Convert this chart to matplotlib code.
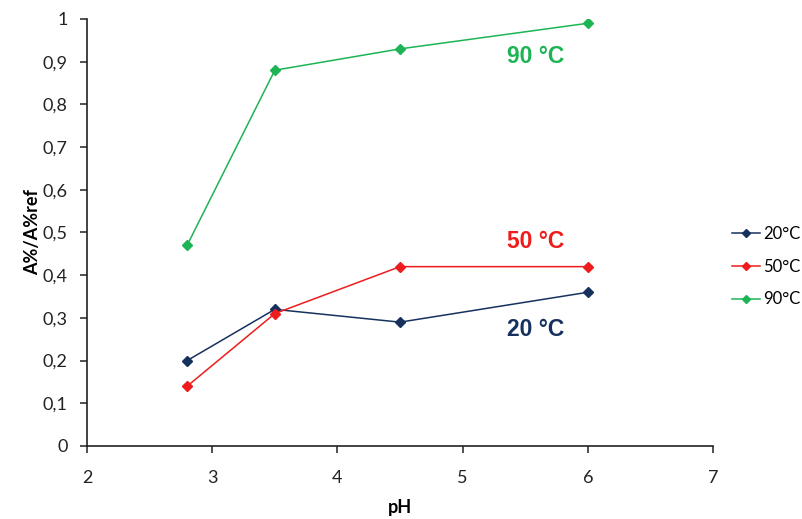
import matplotlib
matplotlib.use("Agg")
import matplotlib.pyplot as plt
from matplotlib.ticker import FuncFormatter, MultipleLocator

plt.rcParams['font.family'] = ['Lato', 'DejaVu Sans']

ph = [2.8, 3.5, 4.5, 6.0]
t20 = [0.20, 0.32, 0.29, 0.36]
t50 = [0.14, 0.31, 0.42, 0.42]
t90 = [0.47, 0.88, 0.93, 0.99]
labels = ['20°C', '50°C', '90°C']
colors = ['#17315f', '#ee1c1c', '#1db455']
annot = ['20 °C', '50 °C', '90 °C']
annot_pos = [(5.58, 0.272), (5.58, 0.48), (5.58, 0.911)]


def fmt(v, p):
    if abs(v - round(v)) < 1e-9:
        return '%d' % round(v)
    return ('%.1f' % v).replace('.', ',')


fig = plt.figure(figsize=(8.03, 5.19), dpi=100)
ax = fig.add_axes([0.1083, 0.1407, 0.7797, 0.8227])

handles = []
for y, c, lab in zip([t20, t50, t90], colors, labels):
    h, = ax.plot(ph, y, color=c, lw=1.1, marker='D', ms=5, label=lab)
    handles.append(h)

for txt, (x, y), c in zip(annot, annot_pos, colors):
    ax.text(x, y, txt, color=c, fontsize=16.5, fontweight='bold', ha='center', va='center',
            family=['Liberation Sans', 'DejaVu Sans'])

ax.set_xlim(2, 7)
ax.set_ylim(0, 1)
ax.xaxis.set_major_locator(MultipleLocator(1))
ax.yaxis.set_major_locator(MultipleLocator(0.1))
ax.yaxis.set_major_formatter(FuncFormatter(fmt))
for s in ['top', 'right']:
    ax.spines[s].set_visible(False)
for s in ['left', 'bottom']:
    ax.spines[s].set_color('#222222')
    ax.spines[s].set_linewidth(1.2)
ax.tick_params(axis='both', direction='out', length=5, width=1.1, color='#222222',
               labelsize=13, labelcolor='#222222')
ax.tick_params(axis='y', pad=9)
ax.tick_params(axis='x', pad=12)
ax.set_xlabel('pH', fontsize=13, fontweight='bold', labelpad=10)
ax.set_ylabel('A%/A%ref', fontsize=13, fontweight='bold', labelpad=1)

fig.legend(handles=handles, labels=labels, loc='center left', bbox_to_anchor=(0.893, 0.486),
           frameon=False, fontsize=12, handlelength=1.7, handletextpad=0.15,
           labelspacing=1.0, borderaxespad=0.5, borderpad=0.4, markerscale=0.8)

fig.savefig('out.png', dpi=100)
